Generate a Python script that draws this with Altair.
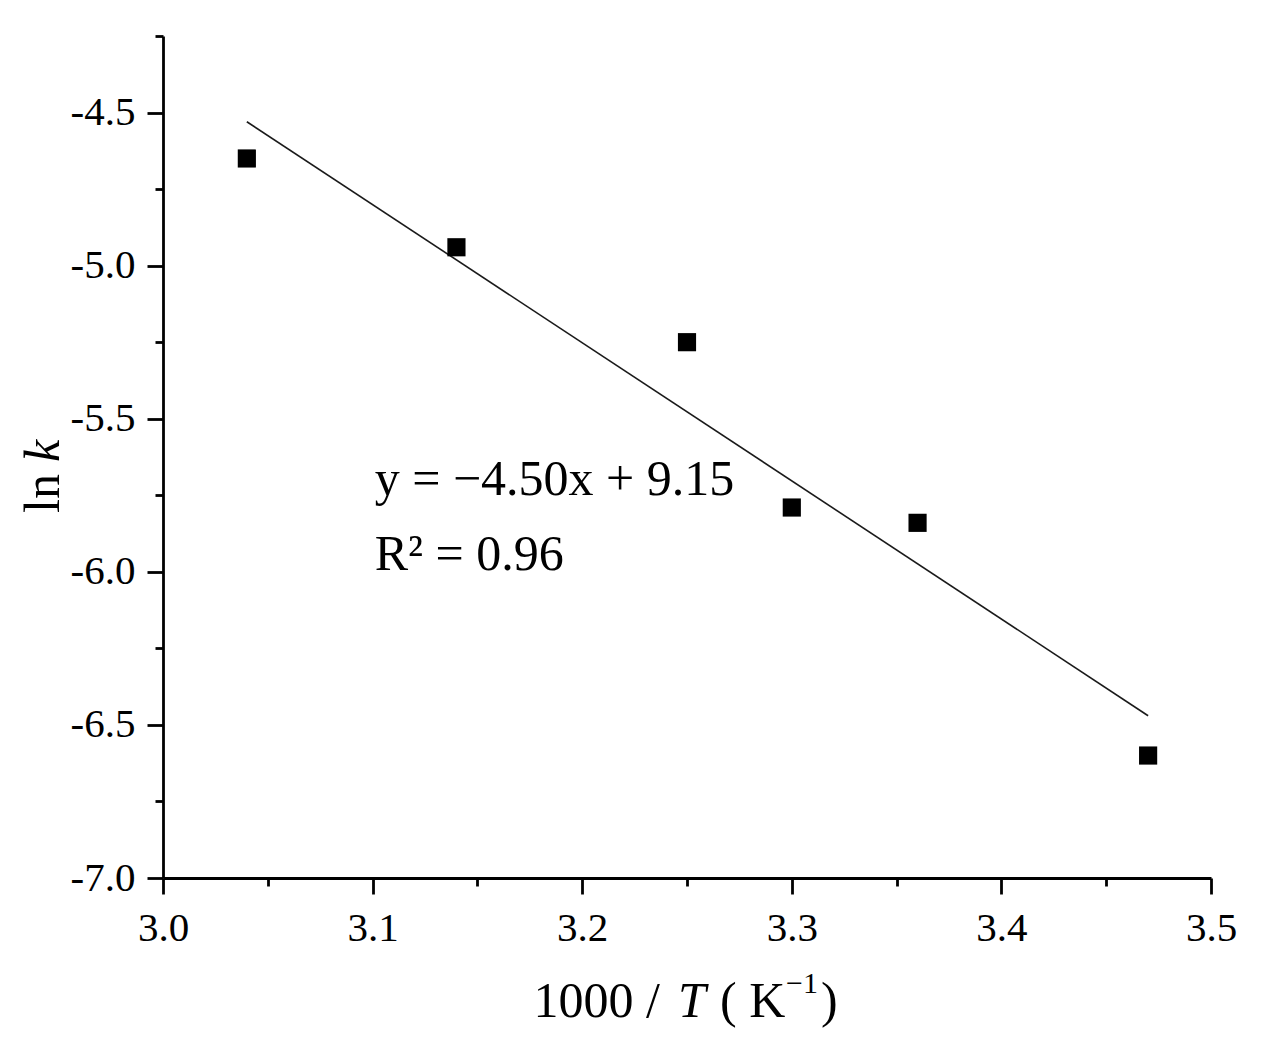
import altair as alt
import pandas as pd

# Data
inv_T = [3.04, 3.14, 3.25, 3.30, 3.36, 3.47]
ln_k = [-4.65, -4.94, -5.25, -5.79, -5.84, -6.60]
fit_x = [3.04, 3.47]
fit_y = [-4.53, -6.47]
x_ticks = [3.0, 3.05, 3.1, 3.15, 3.2, 3.25, 3.3, 3.35, 3.4, 3.45, 3.5]
y_ticks = [-7.0, -6.75, -6.5, -6.25, -6.0, -5.75, -5.5, -5.25, -5.0, -4.75, -4.5, -4.25]
eq_lines = ["y = \u22124.50x + 9.15", "R\u00b2 = 0.96"]
eq_x = [3.101, 3.101]
eq_y = [-5.750, -5.995]

FONT = "Liberation Serif"
W, H = 1048, 842

pts = pd.DataFrame({"x": inv_T, "y": ln_k})
fit = pd.DataFrame({"x": fit_x, "y": fit_y})
eq = pd.DataFrame({"x": eq_x, "y": eq_y, "t": eq_lines})

xscale = alt.Scale(domain=[3.0, 3.5], nice=False, zero=False)
yscale = alt.Scale(domain=[-7.0, -4.25], nice=False, zero=False)

xaxis = alt.Axis(
    values=x_ticks,
    title=None,
    grid=False,
    labelExpr="round(datum.value*100) % 10 == 0 ? format(datum.value, '.1f') : ''",
    tickSize={"condition": {"test": "round(datum.value*100) % 10 == 0", "value": 16}, "value": 8},
    labelPadding=14,
    labelFlush=False,
    labelOverlap=False,
    labelBound=False,
)
yaxis = alt.Axis(
    values=y_ticks,
    title=None,
    grid=False,
    labelExpr="round(datum.value*100) % 50 == 0 ? (datum.value < 0 ? '-' : '') + format(abs(datum.value), '.1f') : ''",
    tickSize={"condition": {"test": "round(datum.value*100) % 50 == 0", "value": 16}, "value": 8},
    labelPadding=12,
    labelFlush=False,
    labelOverlap=False,
    labelBound=False,
)

line = alt.Chart(fit).mark_line(color="#1a1a1a", strokeWidth=1.6).encode(
    x=alt.X("x:Q", scale=xscale, axis=xaxis),
    y=alt.Y("y:Q", scale=yscale, axis=yaxis),
)
points = alt.Chart(pts).mark_point(shape="square", filled=True, color="black", size=330, opacity=1).encode(
    x=alt.X("x:Q", scale=xscale),
    y=alt.Y("y:Q", scale=yscale),
)
eq_text = alt.Chart(eq).mark_text(
    font=FONT, fontSize=50, align="left", baseline="alphabetic", color="black"
).encode(
    x=alt.X("x:Q", scale=xscale),
    y=alt.Y("y:Q", scale=yscale),
    text="t:N",
)

# Axis titles built from pieces (italic variables, superscript)
def label(text, x, y, align="left", style="normal", angle=0, size=50):
    kw = dict(font=FONT, fontSize=size, align=align, baseline="alphabetic",
              color="black", fontStyle=style)
    if angle:
        kw["angle"] = angle
    return alt.Chart(pd.DataFrame({"t": [text]})).mark_text(**kw).encode(
        x=alt.value(x), y=alt.value(y), text="t:N"
    )

xt1 = label("1000 /", 497, 981, align="right")
xt2 = label("T", 515, 981, style="italic")
xt3 = label("( K", 557, 981)
xt4 = label("\u22121", 623, 957, size=30)
xt5 = label(")", 658, 981)
yt1 = label("ln", -104, 477, angle=270)
yt2 = label("k", -104, 426, style="italic", angle=270)

chart = alt.layer(line, points, eq_text, xt1, xt2, xt3, xt4, xt5, yt1, yt2).properties(
    width=W, height=H,
    autosize=alt.AutoSizeParams(type="none"),
    padding={"left": 155, "top": 28, "right": 40, "bottom": 160},
    background="white",
).configure_view(stroke=None).configure_axis(
    domainColor="black", domainWidth=2.8, tickColor="black", tickWidth=2.8,
    labelFont=FONT, labelFontSize=41, labelColor="black",
)

chart.save("out.html", embed_options={"renderer": "svg", "actions": False})
